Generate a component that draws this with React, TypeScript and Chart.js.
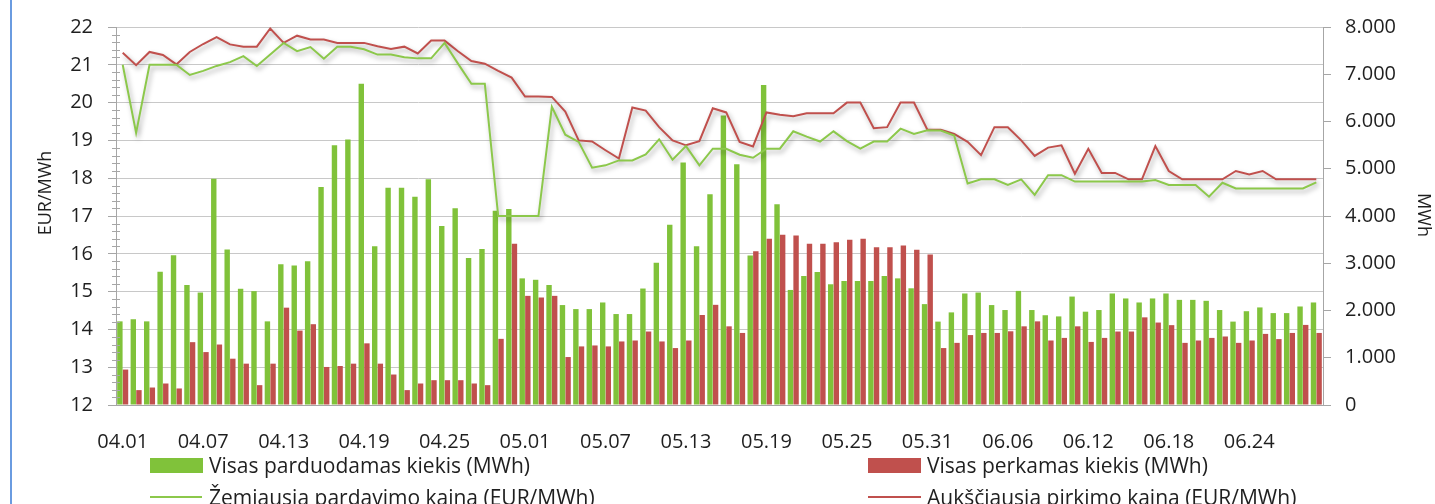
import React, { useEffect, useRef } from "react";
import { Chart, registerables } from "chart.js";

Chart.register(...registerables);

const monthSpans: [string, number][] = [["04", 30], ["05", 31], ["06", 29]];
const dayLabels: string[] = [];
monthSpans.forEach(([m, n]) => {
  for (let d = 1; d <= n; d++) dayLabels.push(m + "." + String(d).padStart(2, "0"));
});

const sellQty = [
  1770, 1815, 1770, 2820, 3170, 2540, 2380, 4790, 3290, 2460,
  2410, 1770, 2980, 2950, 3040, 4615, 5500, 5620, 6800, 3360,
  4600, 4600, 4410, 4780, 3790, 4165, 3110, 3300, 4110, 4150,
  2680, 2650, 2540, 2115, 2030, 2030, 2170, 1925, 1925, 2465,
  3010, 3815, 5130, 3360, 4460, 6125, 5095, 3165, 6770, 4250,
  2435, 2730, 2815, 2555, 2625, 2625, 2625, 2730, 2680, 2470,
  2135, 1765, 1960, 2360, 2380, 2115, 2010, 2415, 2010, 1900,
  1875, 2295, 1975, 2010, 2360, 2255, 2170, 2255, 2360, 2225,
  2225, 2205, 2010, 1765, 1985, 2065, 1945, 1945, 2085, 2170,
];

const buyQty = [
  750, 315, 370, 455, 350, 1330, 1120, 1280, 980, 875,
  420, 875, 2060, 1575, 1710, 805, 825, 875, 1305, 875,
  645, 315, 455, 525, 525, 525, 455, 420, 1400, 3415,
  2310, 2275, 2310, 1015, 1240, 1260, 1240, 1345, 1365, 1555,
  1345, 1205, 1365, 1905, 2120, 1665, 1525, 3255, 3520, 3605,
  3585, 3415, 3415, 3445, 3500, 3520, 3340, 3340, 3375, 3285,
  3185, 1205, 1315, 1480, 1525, 1525, 1560, 1665, 1770, 1365,
  1420, 1665, 1335, 1420, 1555, 1555, 1855, 1745, 1690, 1315,
  1365, 1420, 1450, 1315, 1365, 1505, 1395, 1525, 1695, 1525,
];

const minSellPrice = [
  21.0, 19.2, 21.0, 21.0, 21.0, 20.73, 20.84, 20.97, 21.07, 21.23,
  20.97, 21.27, 21.58, 21.36, 21.47, 21.16, 21.48, 21.48, 21.41, 21.27,
  21.27, 21.2, 21.17, 21.17, 21.58, 21.03, 20.5, 20.5, 17.0, 17.0,
  17.0, 17.0, 19.89, 19.15, 18.96, 18.28, 18.34, 18.47, 18.47, 18.63,
  19.03, 18.49, 18.85, 18.34, 18.78, 18.78, 18.62, 18.54, 18.78, 18.78,
  19.24, 19.1, 18.97, 19.24, 18.98, 18.78, 18.97, 18.97, 19.31, 19.17,
  19.27, 19.26, 19.13, 17.86, 17.97, 17.97, 17.82, 17.97, 17.56, 18.08,
  18.08, 17.91, 17.91, 17.91, 17.91, 17.91, 17.91, 17.95, 17.82, 17.82,
  17.82, 17.51, 17.88, 17.73, 17.73, 17.73, 17.73, 17.73, 17.73, 17.89,
];

const maxBuyPrice = [
  21.32, 20.99, 21.34, 21.26, 21.01, 21.34, 21.55, 21.73, 21.54, 21.48,
  21.48, 21.96, 21.58, 21.77, 21.67, 21.67, 21.58, 21.58, 21.58, 21.49,
  21.42, 21.48, 21.3, 21.64, 21.64, 21.36, 21.1, 21.03, 20.84, 20.66,
  20.16, 20.16, 20.15, 19.76, 19.0, 18.97, 18.74, 18.52, 19.87, 19.79,
  19.35, 19.0, 18.87, 18.98, 19.85, 19.74, 18.96, 18.84, 19.74, 19.68,
  19.64, 19.72, 19.72, 19.72, 20.0, 20.0, 19.32, 19.35, 20.0, 20.0,
  19.28, 19.28, 19.17, 18.96, 18.61, 19.35, 19.35, 19.0, 18.59, 18.81,
  18.87, 18.12, 18.78, 18.14, 18.14, 17.97, 17.97, 18.85, 18.19, 17.97,
  17.97, 17.97, 17.97, 18.19, 18.1, 18.19, 17.97, 17.97, 17.97, 17.97,
];

const seriesNames = [
  "Visas parduodamas kiekis (MWh)",
  "Visas perkamas kiekis (MWh)",
  "Žemiausia pardavimo kaina (EUR/MWh)",
  "Aukščiausia pirkimo kaina (EUR/MWh)",
];
const leftTitle = "EUR/MWh";
const rightTitle = "MWh";

const GREEN = "#80C23A";
const GREEN_LINE = "#8CC84B";
const RED = "#C0504D";
const FONT = "'Open Sans', 'Noto Sans', sans-serif";
const TXT = "#1f1f1f";
const AXIS = "#a6a6a6";

const W = 1435;
const H = 504;

export default function App() {
  const ref = useRef<HTMLCanvasElement | null>(null);

  useEffect(() => {
    if (!ref.current) return;

    const shadowPlugin = {
      id: "lineShadow",
      beforeDatasetDraw(chart: any, args: any) {
        const ds = chart.data.datasets[args.index];
        if (ds.type === "line") {
          const ctx = chart.ctx;
          ctx.save();
          ctx.shadowColor = "rgba(0,0,0,0.35)";
          ctx.shadowBlur = 5;
          ctx.shadowOffsetX = 2;
          ctx.shadowOffsetY = 3;
        }
      },
      afterDatasetDraw(chart: any, args: any) {
        const ds = chart.data.datasets[args.index];
        if (ds.type === "line") chart.ctx.restore();
      },
    };

    const extrasPlugin = {
      id: "extras",
      afterDraw(chart: any) {
        const ctx = chart.ctx;
        const ys = chart.scales.y;
        const x0 = ys.right;
        ctx.save();
        ctx.strokeStyle = AXIS;
        ctx.lineWidth = 1;
        for (let k = 0; k <= 50; k++) {
          if (k % 5 === 0) continue;
          const v = 12 + k * 0.2;
          const py = Math.round(ys.getPixelForValue(v)) + 0.5;
          ctx.beginPath();
          ctx.moveTo(x0 - 4, py);
          ctx.lineTo(x0 + 4, py);
          ctx.stroke();
        }
        ctx.fillStyle = TXT;
        ctx.font = "18px " + FONT;
        ctx.textAlign = "center";
        ctx.textBaseline = "middle";
        ctx.save();
        ctx.translate(46, 193);
        ctx.rotate(-Math.PI / 2);
        ctx.fillText(leftTitle, 0, 0);
        ctx.restore();
        ctx.save();
        ctx.translate(1423, 215);
        ctx.rotate(Math.PI / 2);
        ctx.fillText(rightTitle, 0, 0);
        ctx.restore();
        ctx.restore();
      },
    };

    const chart = new Chart(ref.current, {
      type: "bar",
      data: {
        labels: dayLabels,
        datasets: [
          {
            type: "line",
            label: seriesNames[2],
            data: minSellPrice,
            yAxisID: "y",
            borderColor: GREEN_LINE,
            borderWidth: 2,
            pointRadius: 0,
            tension: 0,
            order: 0,
          },
          {
            type: "line",
            label: seriesNames[3],
            data: maxBuyPrice,
            yAxisID: "y",
            borderColor: RED,
            borderWidth: 2,
            pointRadius: 0,
            tension: 0,
            order: 0,
          },
          {
            type: "bar",
            label: seriesNames[0],
            data: sellQty,
            yAxisID: "y1",
            backgroundColor: GREEN,
            borderWidth: 0,
            categoryPercentage: 0.84,
            barPercentage: 0.96,
            order: 1,
          },
          {
            type: "bar",
            label: seriesNames[1],
            data: buyQty,
            yAxisID: "y1",
            backgroundColor: RED,
            borderWidth: 0,
            categoryPercentage: 0.84,
            barPercentage: 0.96,
            order: 1,
          },
        ],
      },
      options: {
        responsive: false,
        animation: false,
        devicePixelRatio: 1,
        layout: { padding: { top: 24, left: 0, right: 0, bottom: 0 } },
        plugins: {
          legend: { display: false },
          title: { display: false },
          tooltip: { enabled: false },
        },
        scales: {
          x: {
            type: "category",
            offset: true,
            grid: { display: false },
            border: { display: true, color: AXIS },
            ticks: {
              autoSkip: false,
              maxRotation: 0,
              minRotation: 0,
              padding: 17,
              color: TXT,
              font: { family: FONT, size: 20 },
              callback: (_v: any, i: number) => (i % 6 === 0 ? dayLabels[i] : ""),
            },
            afterFit: (s: any) => {
              s.height = 99;
            },
          },
          y: {
            position: "left",
            min: 12,
            max: 22,
            grid: { color: "#c8c8c8", tickColor: AXIS, tickLength: 8 },
            border: { display: true, color: AXIS },
            ticks: {
              stepSize: 1,
              padding: 15,
              color: TXT,
              font: { family: FONT, size: 20 },
            },
            afterFit: (s: any) => {
              s.width = 116;
            },
          },
          y1: {
            position: "right",
            min: 0,
            max: 8000,
            grid: { drawOnChartArea: false, tickColor: AXIS, tickLength: 8 },
            border: { display: true, color: AXIS },
            ticks: {
              stepSize: 1000,
              padding: 14,
              color: TXT,
              font: { family: FONT, size: 20 },
              callback: (v: any) => String(v).replace(/\B(?=(\d{3})+(?!\d))/g, "."),
            },
            afterFit: (s: any) => {
              s.width = 112;
            },
          },
        },
      },
      plugins: [shadowPlugin, extrasPlugin],
    } as any);

    return () => chart.destroy();
  }, []);

  const legendText: React.CSSProperties = {
    position: "absolute",
    fontFamily: FONT,
    fontSize: 21,
    lineHeight: "21px",
    color: TXT,
    whiteSpace: "nowrap",
  };

  return (
    <div
      style={{
        position: "absolute",
        left: 0,
        top: 0,
        width: W,
        height: H,
        overflow: "hidden",
        background: "#ffffff",
      }}
    >
      <canvas ref={ref} width={W} height={H} style={{ width: W, height: H, display: "block" }} />
      <div style={{ position: "absolute", left: 10, top: 0, width: 2, height: H, background: "#6A9BE0" }} />
      <div style={{ position: "absolute", left: 150, top: 458, width: 53, height: 15, background: GREEN }} />
      <div style={{ ...legendText, left: 209, top: 455 }}>{seriesNames[0]}</div>
      <div style={{ position: "absolute", left: 868, top: 458, width: 53, height: 15, background: RED }} />
      <div style={{ ...legendText, left: 927, top: 455 }}>{seriesNames[1]}</div>
      <div style={{ position: "absolute", left: 150, top: 496, width: 52, height: 2, background: GREEN_LINE }} />
      <div style={{ ...legendText, left: 209, top: 487 }}>{seriesNames[2]}</div>
      <div style={{ position: "absolute", left: 868, top: 496, width: 53, height: 2, background: RED }} />
      <div style={{ ...legendText, left: 927, top: 487 }}>{seriesNames[3]}</div>
    </div>
  );
}
